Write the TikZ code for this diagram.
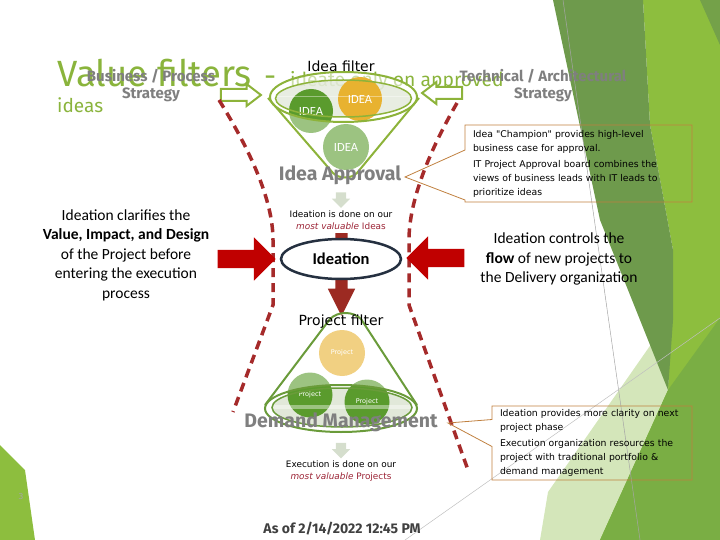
\documentclass[tikz,border=0pt]{standalone}
\usepackage{fontspec}
\setmainfont{Carlito}
\newfontfamily\trebfont{Fira Sans}
\newfontfamily\tahfont{DejaVu Sans}
\usetikzlibrary{shapes.arrows,shapes.callouts,shapes.geometric}

\definecolor{titlegreen}{HTML}{8AB43C}
\definecolor{funnelgreen}{HTML}{8DB33A}
\definecolor{projgreen}{HTML}{6A9B3A}
\definecolor{ideagreen}{HTML}{5A9B2D}
\definecolor{ideaorange}{HTML}{E8B230}
\definecolor{labelgrey}{HTML}{7F7F7F}
\definecolor{dategrey}{HTML}{404040}
\definecolor{dashred}{HTML}{A52A2A}
\definecolor{pushred}{HTML}{C00000}
\definecolor{flowred}{HTML}{9C2A22}
\definecolor{valred}{HTML}{9B2335}
\definecolor{boxorange}{HTML}{C0803F}
\definecolor{rimfill}{HTML}{E1E8D9}
\definecolor{arrowpale}{HTML}{D5DECD}
\definecolor{ringdark}{HTML}{253040}
\definecolor{bgdark}{HTML}{6E9A4C}
\definecolor{bgbright}{HTML}{8DBE3E}
\definecolor{bgmid}{HTML}{7AAE44}
\definecolor{bgpale}{HTML}{D4E6BA}

\begin{document}
\begin{tikzpicture}[x=1pt,y=-1pt,
    idea/.style={circle,inner sep=0,minimum size=44pt,text=white,font=\fontsize{12.5}{12.5}\selectfont},
    projectdot/.style={circle,inner sep=0,minimum size=45pt,text=white,font=\tahfont\fontsize{6.5}{6.5}\selectfont},
    greytitle/.style={text=labelgrey,font=\trebfont\bfseries\fontsize{19.5}{19.5}\selectfont,inner sep=0},
    strategylabel/.style={text=labelgrey,font=\trebfont\bfseries\fontsize{15}{17}\selectfont,align=center,inner sep=0},
    filterlabel/.style={font=\tahfont\fontsize{14}{14}\selectfont,inner sep=0},
    smallnote/.style={font=\tahfont\fontsize{8.9}{11.5}\selectfont,align=center,inner sep=0},
    pushblock/.style={single arrow,fill=pushred,inner sep=9pt,single arrow head extend=12.5pt,minimum height=58pt},
    hollowblock/.style={single arrow,draw=funnelgreen,line width=2pt,fill=white,inner sep=5pt,single arrow head extend=5pt,single arrow tip angle=75,minimum height=40pt},
    palearrow/.style={single arrow,fill=arrowpale,inner sep=5pt,single arrow head extend=4pt,minimum height=15pt,shape border rotate=270},
    callbox/.style={rectangle callout,draw=boxorange,line width=.8pt,font=\tahfont\fontsize{9.3}{14}\selectfont,align=left,inner xsep=8pt,inner ysep=0},
    dashline/.style={dashred,line width=3.5pt,dash pattern=on 9pt off 6pt},
    sidetext/.style={font=\fontsize{15.5}{19.5}\selectfont,align=center,inner sep=0}
  ]
  \useasboundingbox (0,0) rectangle (720,540);
  % background facets
  \fill[bgbright] (643,0) -- (720,0) -- (720,540) -- (555,540) -- (668,390) -- (673,250) -- (650,125) -- cycle;
  \fill[bgpale] (548,492) -- (668,320) -- (668,390) -- (600,540) -- (540,540) -- cycle;
  \fill[bgmid] (600,540) -- (668,390) -- (720,318) -- (720,540) -- cycle;
  \fill[bgdark] (553,0) -- (643,0) -- (650,125) -- (673,250) -- (673,320) -- (668,390) -- (600,220) -- cycle;
  \fill[bgdark!80!bgbright] (700,0) -- (720,0) -- (720,45) -- cycle;
  \fill[bgbright] (0,445) -- (25,470) -- (35,540) -- (0,540) -- cycle;
  \draw[gray!70,line width=.5pt] (563,0) -- (640,540);
  \draw[gray!50,line width=.5pt] (405,540) -- (720,318);
  \node[text=labelgrey!70,font=\tahfont\fontsize{8}{8}\selectfont] (pagenum) at (21,497) {3};

  % title
  \node[anchor=base west,inner sep=0,text=titlegreen,font=\trebfont\fontsize{36.5}{36.5}\selectfont] (valuetitle) at (57,87) {Value filters};
  \node[anchor=base west,inner sep=0,text=titlegreen,font=\trebfont\fontsize{30}{30}\selectfont] (titledash) at (264,87) {-};
  \node[anchor=base west,inner sep=0,text=titlegreen,font=\trebfont\fontsize{19.3}{19.3}\selectfont] (ideatetitle) at (290,87) {ideate only on approved};
  \node[anchor=base west,inner sep=0,text=titlegreen,font=\trebfont\fontsize{19}{19}\selectfont] (ideastitle) at (57,113) {ideas};

  % idea filter
  \coordinate (ideatop) at (343.5,97);
  \fill[white,opacity=.55] (ideatop) ellipse [x radius=73.5,y radius=25];
  \fill[rimfill,opacity=.75] (343.5,98.5) ellipse [x radius=68,y radius=18.5];
  \node[idea,fill=ideagreen] (idealeft) at (311,111) {IDEA};
  \node[idea,fill=ideaorange] (idearight) at (360,99) {IDEA};
  \node[idea,fill=ideagreen,minimum size=46pt] (idealow) at (346,147) {IDEA};
  \begin{scope}
    \clip (200,97) rectangle (480,200);
    \fill[white,opacity=.4,even odd rule] (268,97) -- (333,173) .. controls (339,179) and (351,179) .. (357,173) -- (419,97) -- cycle
      (ideatop) ellipse [x radius=73.5,y radius=25];
  \end{scope}
  \draw[funnelgreen,line width=2pt] (268,98) -- (333,173) .. controls (339,179) and (351,179) .. (357,173) -- (419,98);
  \draw[funnelgreen,line width=2pt] (ideatop) ellipse [x radius=73.5,y radius=25];
  \draw[funnelgreen,line width=1.5pt] (343.5,98.5) ellipse [x radius=68,y radius=18.5];
  \node[filterlabel,anchor=base] (ideafilter) at (341,72) {Idea filter};

  % strategy labels
  \node[strategylabel] (bizstrategy) at (151,86) {Business / Process\\Strategy};
  \node[strategylabel] (techstrategy) at (543,86) {Technical / Architectural\\Strategy};
  \node[hollowblock] (bizarrow) at (237,95) {};
  \node[hollowblock,shape border rotate=180] (techarrow) at (446,93) {};

  % boundaries
  \draw[dashline] (219,100) .. controls (250,150) and (273,200) .. (273,240) -- (273,305) -- (233,412);
  \draw[dashline] (457,103) .. controls (430,150) and (409,200) .. (409,240) -- (409,305) -- (468,470);

  % ideation
  \node[greytitle] (ideaapproval) at (340,175) {Idea Approval};
  \node[palearrow] (approvalarrow) at (341,197.5) {};
  \node[smallnote] (ideasnote) at (341,220) {Ideation is done on our\\\textcolor{valred}{\textit{most valuable} Ideas}};
  \node[single arrow,fill=flowred,inner sep=6pt,single arrow head extend=7.5pt,single arrow tip angle=53,minimum height=83pt,shape border rotate=270] (flowarrow) at (341.5,268.5) {};
  \node[ellipse,draw=ringdark,line width=2.5pt,fill=white,minimum width=120pt,minimum height=40pt,font=\bfseries\fontsize{16.5}{16.5}\selectfont] (ideation) at (341,259) {Ideation};
  \node[pushblock] (leftpush) at (242,259) {};
  \node[pushblock,shape border rotate=180] (rightpush) at (440,258) {};
  \node[sidetext] (clarifies) at (126,255) {Ideation clarifies the\\\textbf{Value, Impact, and Design}\\of the Project before\\entering the execution\\process};
  \node[sidetext] (controls) at (559,259) {Ideation controls the\\\textbf{flow} of new projects to\\the Delivery organization};

  % project filter
  \coordinate (projbase) at (341,408.5);
  \fill[rimfill] (342,407.5) ellipse [x radius=70,y radius=19.5];
  \node[projectdot,fill=ideaorange,minimum size=46pt] (projtop) at (342,353) {Project};
  \node[projectdot,fill=ideagreen] (projleft) at (310,395) {Project};
  \node[projectdot,fill=ideagreen] (projright) at (367,402) {Project};
  \begin{scope}
    \clip (200,300) rectangle (480,408.5);
    \fill[white,opacity=.4,even odd rule] (265,405) -- (330,319) .. controls (338,311) and (353,311) .. (361,319) -- (417,405) -- cycle
      (projbase) ellipse [x radius=76,y radius=23.5];
  \end{scope}
  \draw[projgreen,line width=2pt] (265,405) -- (330,319) .. controls (338,311) and (353,311) .. (361,319) -- (417,405);
  \draw[projgreen,line width=2pt] (projbase) ellipse [x radius=76,y radius=23.5];
  \draw[projgreen,line width=1.5pt] (342,407.5) ellipse [x radius=70,y radius=19.5];
  \node[filterlabel,anchor=base] (projectfilter) at (341,325) {Project filter};
  \node[greytitle] (demandmgmt) at (341,422) {Demand Management};
  \node[palearrow] (demandarrow) at (341,448) {};
  \node[smallnote] (projectsnote) at (341,471) {Execution is done on our\\\textcolor{valred}{\textit{most valuable} Projects}};
  \node[text=dategrey,font=\trebfont\bfseries\fontsize{14}{14}\selectfont] (asof) at (342,529) {As of 2/14/2022 12:45 PM};

  % callouts
  \coordinate (approvaltip) at (405,177);
  \coordinate (demandtip) at (448,423);
  \node[callbox,text width=211pt,minimum height=77pt,callout absolute pointer={(approvaltip)},callout pointer width=50pt] (approvalbox) at (578.5,163.5)
    {Idea "Champion" provides high-level\\business case for approval.\\[2pt]IT Project Approval board combines the\\views of business leads with IT leads to\\prioritize ideas};
  \node[callbox,text width=184pt,minimum height=74pt,callout absolute pointer={(demandtip)},callout pointer width=27pt] (demandbox) at (592,443)
    {Ideation provides more clarity on next\\project phase\\[2pt]Execution organization resources the\\project with traditional portfolio \&\\demand management};
\end{tikzpicture}
\end{document}
